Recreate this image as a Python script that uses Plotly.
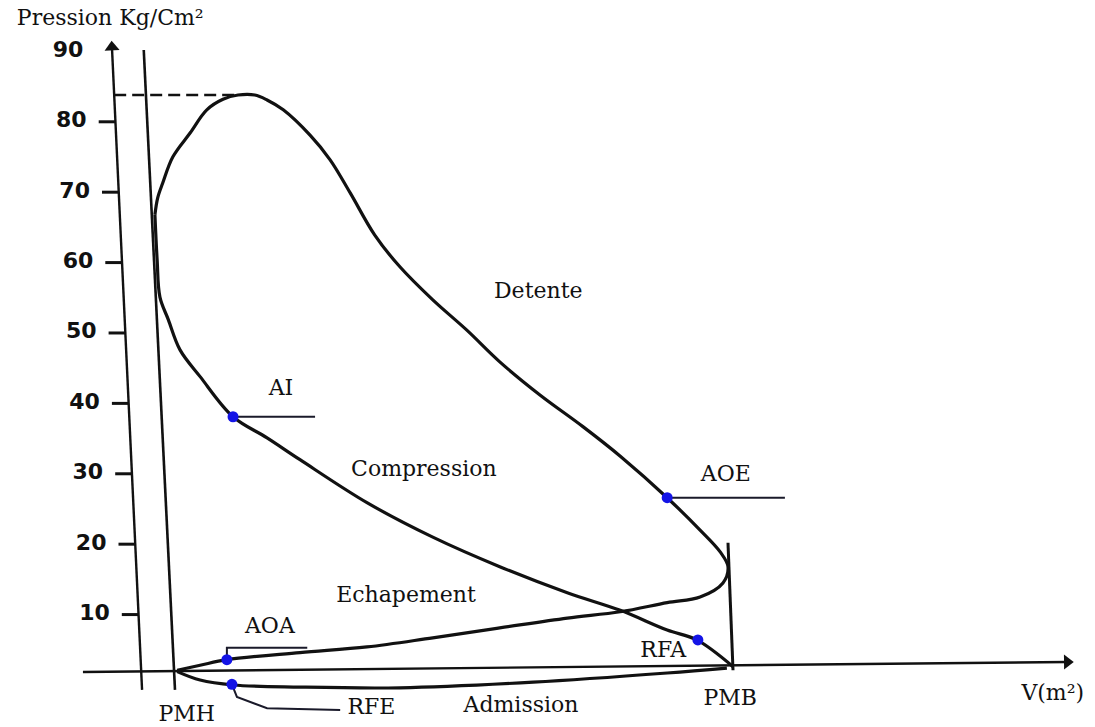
import math
import plotly.graph_objects as go

# Indicator (P-V) diagram of a four-stroke diesel engine.
# Volume in stroke units (PMH = 0, PMB = 100), pressure in kg/cm².

# Compression: from PMB back up to the start of combustion
comp_v = [100.0, 93.5, 88.2, 79.8, 70.3, 58.2, 46.2, 34.4, 22.4, 16.5, 10.4, 4.5, 0.9, -1.2, -2.7, -3.2, -3.6]
comp_p = [2.6, 6.4, 7.8, 10.6, 13.1, 16.8, 21.0, 25.9, 32.0, 35.1, 38.1, 43.8, 47.6, 51.9, 55.1, 60.4, 66.8]

# Combustion rise up to peak pressure
comb_v = [-3.6, -3.1, -2.2, -0.4, 2.7, 5.7, 8.6, 11.3, 14.3]
comb_p = [66.8, 69.2, 71.3, 75.0, 78.4, 81.7, 83.2, 83.8, 83.8]

# Expansion (Detente)
det_v = [16.5, 19.4, 24.2, 27.8, 31.4, 35.8, 40.3, 46.2, 52.3, 58.2, 65.4, 73.1, 79.8, 88.2, 94.1, 97.7, 99.1]
det_p = [83.1, 81.7, 78.1, 74.6, 69.9, 63.9, 59.4, 54.7, 50.4, 45.9, 41.2, 36.7, 32.5, 26.6, 22.0, 18.9, 16.8]

# Exhaust (Echapement) back to PMH
ech_v = [98.2, 94.1, 88.2, 79.8, 70.3, 58.2, 46.2, 34.4, 22.4, 9.3, 4.5, 0.4]
ech_p = [14.5, 12.5, 11.7, 10.4, 9.5, 8.1, 6.7, 5.4, 4.6, 3.6, 2.8, 2.1]

# Admission from PMH to PMB
adm_v = [0.4, 4.5, 10.4, 22.4, 40.3, 64.2, 88.2, 98.9]
adm_p = [1.9, 0.7, 0.0, -0.3, -0.4, 0.4, 1.7, 2.4]

# PMB stroke end (vertical) and PMH dead-centre line
pmb_v = [99.1, 100.0]
pmb_p = [20.2, 2.1]
pmh_v = [-5.6, 0.0]
pmh_p = [90.2, -0.7]

# Valve timing events
event_names = ["AI", "AOE", "AOA", "RFE", "RFA"]
event_v = [10.4, 88.2, 9.3, 10.2, 93.7]
event_p = [38.1, 26.6, 3.6, 0.1, 6.4]

# Pressure scale
tick_values = [10, 20, 30, 40, 50, 60, 70, 80, 90]

# Hand-drawn axes (pressure axis leans slightly)
p_axis_v = [-5.9, -11.3]
p_axis_p = [-0.7, 90.6]
v_axis_v = [-16.5, 159.9]
v_axis_p = [1.85, 3.27]

W, H = 1095, 727
X_RANGE = [-31.36, 164.87]
Y_RANGE = [-5.97, 97.30]
INK = "#111111"
BLUE = "#1414e6"
SERIF = "DejaVu Serif"

PX_PER_V = W / (X_RANGE[1] - X_RANGE[0])
PX_PER_P = H / (Y_RANGE[1] - Y_RANGE[0])


def p_axis_at(p):
    """V position of the leaning pressure axis at pressure p."""
    t = (p - p_axis_p[0]) / (p_axis_p[1] - p_axis_p[0])
    return p_axis_v[0] + t * (p_axis_v[1] - p_axis_v[0])


def screen_angle(vs, ps):
    """Clockwise on-screen angle (deg) of the segment direction, 0 = pointing up."""
    dx = (vs[1] - vs[0]) * PX_PER_V
    dy = (ps[1] - ps[0]) * PX_PER_P
    return math.degrees(math.atan2(dx, dy))


fig = go.Figure()
curve = dict(color=INK, width=3.2, shape="spline", smoothing=1.0)

# main cycle: combustion -> expansion -> exhaust as one stroke
cyc_v = comb_v + det_v + ech_v
cyc_p = comb_p + det_p + ech_p
fig.add_trace(go.Scatter(x=cyc_v, y=cyc_p, mode="lines", line=curve))
fig.add_trace(go.Scatter(x=comp_v, y=comp_p, mode="lines", line=curve))
fig.add_trace(go.Scatter(x=adm_v, y=adm_p, mode="lines", line=curve))
fig.add_trace(go.Scatter(x=pmb_v, y=pmb_p, mode="lines", line=dict(color=INK, width=3)))
fig.add_trace(go.Scatter(x=pmh_v, y=pmh_p, mode="lines", line=dict(color=INK, width=2.6)))

# peak pressure reference (dashed)
p_max = max(comb_p)
v_peak = comb_v[comb_p.index(p_max)]
fig.add_trace(go.Scatter(x=[p_axis_at(p_max), v_peak], y=[p_max, p_max], mode="lines",
                         line=dict(color=INK, width=2.4, dash="12px,6px")))

# axes with arrow heads at their far ends
heads_v, heads_p, heads_a = [], [], []
for av, ap in [(p_axis_v, p_axis_p), (v_axis_v, v_axis_p)]:
    fig.add_trace(go.Scatter(x=av, y=ap, mode="lines", line=dict(color=INK, width=2.4)))
    heads_v.append(av[1])
    heads_p.append(ap[1])
    heads_a.append(screen_angle(av, ap))
fig.add_trace(go.Scatter(
    x=heads_v, y=heads_p, mode="markers",
    marker=dict(symbol="triangle-up", size=13, angle=heads_a,
                color=INK, line=dict(width=0))))

# pressure axis tick marks
tx, ty = [], []
for v in tick_values[:-1]:
    a = p_axis_at(v)
    tx += [a - 3.0, a, None]
    ty += [v, v, None]
fig.add_trace(go.Scatter(x=tx, y=ty, mode="lines", line=dict(color=INK, width=3)))

# pressure axis tick labels
fig.add_trace(go.Scatter(
    x=[p_axis_at(v) - 7.9 for v in tick_values], y=tick_values, mode="text",
    text=[str(v) for v in tick_values], textposition="middle center",
    textfont=dict(family="DejaVu Sans", size=22, color=INK, weight="bold")))

# leader lines for valve events
ev = dict(zip(event_names, zip(event_v, event_p)))
leaders = {
    "AI": ([ev["AI"][0], 25.1], [ev["AI"][1], ev["AI"][1]]),
    "AOE": ([ev["AOE"][0], 109.3], [ev["AOE"][1], ev["AOE"][1]]),
    "AOA": ([ev["AOA"][0], ev["AOA"][0], 23.7], [ev["AOA"][1], 5.3, 5.3]),
    "RFE": ([ev["RFE"][0], 11.1, 16.5, 29.6], [ev["RFE"][1], -1.7, -3.3, -3.55]),
}
for lv, lp in leaders.values():
    fig.add_trace(go.Scatter(x=lv, y=lp, mode="lines", line=dict(color="#1a1a2a", width=2)))

fig.add_trace(go.Scatter(x=event_v, y=event_p, mode="markers",
                         marker=dict(color=BLUE, size=11, line=dict(width=0))))

# text labels
labels = [
    ("Pression Kg/Cm²", -11.6, 94.6),
    ("Detente", 65.1, 55.8),
    ("Compression", 44.6, 30.4),
    ("Echapement", 41.4, 12.5),
    ("Admission", 62.0, -3.1),
    ("AI", 19.0, 42.0),
    ("AOE", 98.7, 29.7),
    ("AOA", 17.0, 8.2),
    ("RFE", 35.2, -3.4),
    ("RFA", 87.5, 4.8),
    ("PMH", 2.1, -4.3),
    ("PMB", 99.5, -2.0),
    ("V(m²)", 157.3, -1.4),
]
fig.add_trace(go.Scatter(
    x=[v for _, v, _ in labels], y=[p for _, _, p in labels], mode="text",
    text=[t for t, _, _ in labels], textposition="middle center",
    textfont=dict(family=SERIF, size=22, color=INK)))

fig.update_layout(
    width=W, height=H,
    margin=dict(l=0, r=0, t=0, b=0),
    paper_bgcolor="white", plot_bgcolor="white",
    showlegend=False,
    xaxis=dict(range=X_RANGE, visible=False, fixedrange=True),
    yaxis=dict(range=Y_RANGE, visible=False, fixedrange=True),
)

fig.write_html("out.html", config={"displayModeBar": False})
